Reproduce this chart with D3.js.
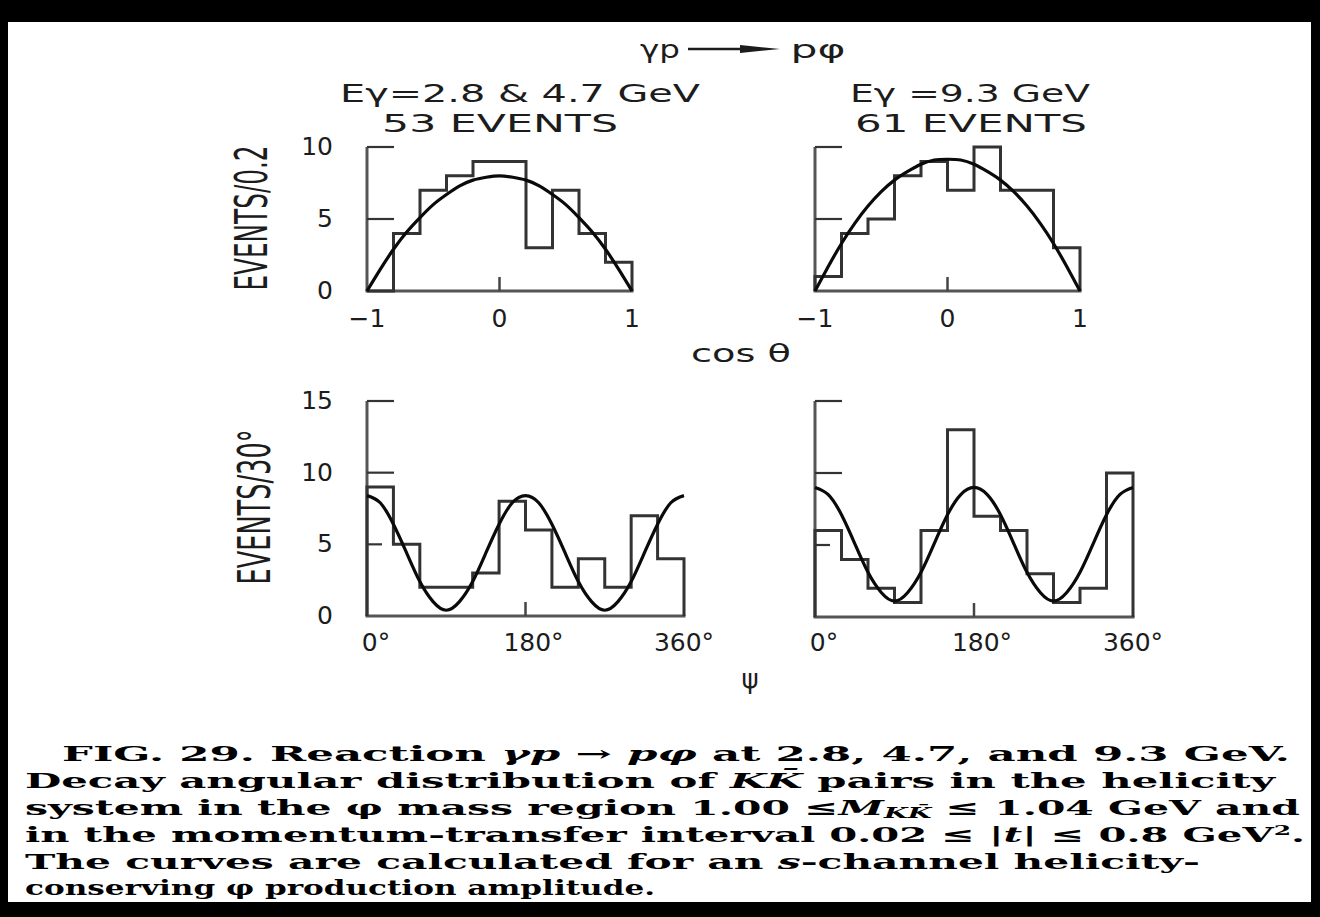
<!DOCTYPE html>
<html>
<head>
<meta charset="utf-8">
<script src="https://cdn.jsdelivr.net/npm/d3@7"></script>
<style>
  html, body { margin: 0; padding: 0; background: #000; }
  svg { display: block; }
</style>
</head>
<body>
<svg id="fig" width="1320" height="917"></svg>
<script>
// ---- Decay angular distributions, gamma p -> p phi ----

// cos(theta) histograms: bin edges and counts (events / 0.2)
const cosEdges = [-1, -0.8, -0.6, -0.4, -0.2, 0, 0.2, 0.4, 0.6, 0.8, 1];
const cosCountsLow = [0, 4, 7, 8, 9, 9, 3, 7, 4, 2];     // E = 2.8 & 4.7 GeV, 53 events
const cosCountsHigh = [1, 4, 5, 8, 9, 7, 10, 7, 7, 3];   // E = 9.3 GeV, 61 events

// psi histograms: bin edges (degrees) and counts (events / 30 deg)
const psiEdges = [0, 30, 60, 90, 120, 150, 180, 210, 240, 270, 300, 330, 360];
const psiCountsLow = [9, 5, 2, 2, 3, 8, 6, 2, 4, 2, 7, 4];
const psiCountsHigh = [6, 4, 2, 1, 6, 13, 7, 6, 3, 1, 2, 10];

// helicity-conserving model curves
const cosCurveX = [-1, -0.9, -0.8, -0.7, -0.6, -0.5, -0.4, -0.3, -0.2, -0.1, 0,
                   0.1, 0.2, 0.3, 0.4, 0.5, 0.6, 0.7, 0.8, 0.9, 1];
const cosCurveLow = [0, 1.5, 2.9, 4.1, 5.1, 6.0, 6.7, 7.3, 7.7, 7.9, 8.0,
                     7.9, 7.7, 7.3, 6.7, 6.0, 5.1, 4.1, 2.9, 1.5, 0];
const cosCurveHigh = [0, 1.7, 3.3, 4.7, 5.9, 6.9, 7.7, 8.3, 8.8, 9.1, 9.15,
                      9.1, 8.8, 8.3, 7.7, 6.9, 5.9, 4.7, 3.3, 1.7, 0];
const psiCurveX = [0, 15, 30, 45, 60, 75, 90, 105, 120, 135, 150, 165, 180,
                   195, 210, 225, 240, 255, 270, 285, 300, 315, 330, 345, 360];
const psiCurveLow = [8.4, 7.9, 6.4, 4.4, 2.4, 1.0, 0.4, 1.0, 2.4, 4.4, 6.4, 7.9, 8.4,
                     7.9, 6.4, 4.4, 2.4, 1.0, 0.4, 1.0, 2.4, 4.4, 6.4, 7.9, 8.4];
const psiCurveHigh = [9.0, 8.5, 7.1, 5.1, 3.1, 1.7, 1.1, 1.7, 3.1, 5.1, 7.1, 8.5, 9.0,
                      8.5, 7.1, 5.1, 3.1, 1.7, 1.1, 1.7, 3.1, 5.1, 7.1, 8.5, 9.0];

// tick values and labels
const cosTicks = [-1, 0, 1];
const cosTickLabels = ["\u22121", "0", "1"];
const psiTicks = [0, 180, 360];
const psiTickLabels = ["0\u00B0", "180\u00B0", "360\u00B0"];
const cosYTicks = [0, 5, 10];
const psiYTicks = [0, 5, 10, 15];

// caption text
const captionLines = [
  [["FIG. 29.  Reaction ", ""], ["\u03B3p", "i"], [" \u2192 ", ""], ["p\u03C6", "i"], [" at 2.8, 4.7, and 9.3 GeV.", ""]],
  [["Decay angular distribution of ", ""], ["KK\u0304", "i"], [" pairs in the helicity", ""]],
  [["system in the \u03C6 mass region 1.00 \u2264", ""], ["M", "i"], ["KK\u0304", "sub"], [" \u2264 1.04 GeV and", ""]],
  [["in the momentum-transfer interval 0.02 \u2264 |", ""], ["t", "i"], ["| \u2264 0.8 GeV", ""], ["2", "sup"], [".", ""]],
  [["The curves are calculated for an ", ""], ["s", "i"], ["-channel helicity-", ""]],
  [["conserving \u03C6 production amplitude.", ""]]
];

const W = 1320, H = 917;
const svg = d3.select("#fig");
const LETTER = "'DejaVu Sans', 'Liberation Sans', sans-serif";
const INK = "#1c1c1c";

// frame
svg.append("rect").attr("x", 0).attr("y", 0).attr("width", W).attr("height", H).attr("fill", "#000");
svg.append("rect").attr("x", 8).attr("y", 22).attr("width", 1303).attr("height", 880).attr("fill", "#fff");

function label(g, txt, x, y, size, opts = {}) {
  const t = g.append("text")
    .attr("x", x).attr("y", y)
    .attr("font-family", LETTER)
    .attr("font-size", size)
    .attr("fill", INK)
    .attr("text-anchor", opts.anchor || "middle")
    .text(txt);
  if (opts.len) t.attr("textLength", opts.len).attr("lengthAdjust", opts.adjust || "spacingAndGlyphs");
  if (opts.transform) t.attr("transform", opts.transform);
  return t;
}

// panel definitions
const panels = [
  { xr: [367, 632], yr: [291, 147], xd: [-1, 1], yd: [0, 10], edges: cosEdges, counts: cosCountsLow,
    cx: cosCurveX, cy: cosCurveLow, ticks: cosTicks, tickLabels: cosTickLabels, yTicks: cosYTicks,
    yLabels: true, shortTick: [], xLabelY: 327, xLabelDx: [0, 0, 0] },
  { xr: [815, 1080], yr: [291, 147], xd: [-1, 1], yd: [0, 10], edges: cosEdges, counts: cosCountsHigh,
    cx: cosCurveX, cy: cosCurveHigh, ticks: cosTicks, tickLabels: cosTickLabels, yTicks: cosYTicks,
    yLabels: false, shortTick: [], xLabelY: 327, xLabelDx: [0, 0, 0] },
  { xr: [367, 684], yr: [616, 401], xd: [0, 360], yd: [0, 15], edges: psiEdges, counts: psiCountsLow,
    cx: psiCurveX, cy: psiCurveLow, ticks: psiTicks, tickLabels: psiTickLabels, yTicks: psiYTicks,
    yLabels: true, shortTick: [5], xLabelY: 651, xLabelDx: [9, 8, 0] },
  { xr: [815, 1133], yr: [617, 401], xd: [0, 360], yd: [0, 15], edges: psiEdges, counts: psiCountsHigh,
    cx: psiCurveX, cy: psiCurveHigh, ticks: psiTicks, tickLabels: psiTickLabels, yTicks: psiYTicks,
    yLabels: false, shortTick: [5], xLabelY: 651, xLabelDx: [9, 8, 0] }
];

panels.forEach(p => {
  const x = d3.scaleLinear().domain(p.xd).range(p.xr);
  const y = d3.scaleLinear().domain(p.yd).range(p.yr);
  const g = svg.append("g");

  // axes: y axis up to top tick, baseline across the full range
  const axisStyle = s => s.attr("stroke", "#555").attr("stroke-width", 3).attr("fill", "none");
  g.append("line").attr("x1", x(p.xd[0])).attr("x2", x(p.xd[0]))
    .attr("y1", y(0)).attr("y2", y(p.yd[1])).call(axisStyle);
  g.append("line").attr("x1", x(p.xd[0]) - 1.5).attr("x2", x(p.xd[1]) + 1.5)
    .attr("y1", y(0)).attr("y2", y(0)).call(axisStyle);

  // inward y ticks
  p.yTicks.filter(v => v > 0).forEach(v => {
    const len = p.shortTick.includes(v) ? 15 : 27;
    g.append("line").attr("x1", x(p.xd[0])).attr("x2", x(p.xd[0]) + len)
      .attr("y1", y(v)).attr("y2", y(v)).attr("stroke", "#333").attr("stroke-width", 2.2);
  });
  // centre x tick
  const mid = p.ticks[1];
  g.append("line").attr("x1", x(mid)).attr("x2", x(mid))
    .attr("y1", y(0)).attr("y2", y(0) - 14).attr("stroke", "#444").attr("stroke-width", 2.5);

  // histogram outline
  const steps = [[p.edges[0], 0]];
  p.counts.forEach((c, i) => { steps.push([p.edges[i], c]); steps.push([p.edges[i + 1], c]); });
  steps.push([p.edges[p.edges.length - 1], 0]);
  const stepLine = d3.line().x(d => x(d[0])).y(d => y(d[1]));
  g.append("path").attr("d", stepLine(steps))
    .attr("fill", "none").attr("stroke", "#333").attr("stroke-width", 3)
    .attr("stroke-linejoin", "miter");

  // model curve
  const curve = d3.line().x(d => x(d[0])).y(d => y(d[1])).curve(d3.curveNatural);
  g.append("path").attr("d", curve(p.cx.map((v, i) => [v, p.cy[i]])))
    .attr("fill", "none").attr("stroke", "#0a0a0a").attr("stroke-width", 3.2);

  // x tick labels
  p.ticks.forEach((t, i) => {
    label(g, p.tickLabels[i], x(t) + p.xLabelDx[i], p.xLabelY, 25);
  });
  // y tick labels (left column only)
  if (p.yLabels) {
    p.yTicks.forEach(v => {
      label(g, String(v), 333, y(v) + 8, 25, { anchor: "end" });
    });
  }
});

// axis titles
label(svg, "EVENTS/0.2", 0, 0, 44, { len: 145, transform: "translate(267,218) rotate(-90)" });
label(svg, "EVENTS/30\u00B0", 0, 0, 44, { len: 155, transform: "translate(270,507) rotate(-90)" });
label(svg, "cos \u03B8", 741, 362, 25, { len: 100 });
label(svg, "\u03C8", 750, 688, 26);

// panel headers
label(svg, "E\u03B3=2.8 & 4.7 GeV", 520, 102, 25, { len: 360 });
label(svg, "53 EVENTS", 500, 132, 25, { len: 236 });
label(svg, "E\u03B3 =9.3 GeV", 970, 102, 25, { len: 240 });
label(svg, "61 EVENTS", 971, 132, 25, { len: 232 });

// reaction title with arrow
label(svg, "\u03B3p", 660, 58, 25, { len: 40 });
label(svg, "p\u03C6", 818, 58, 25, { len: 55 });
svg.append("line").attr("x1", 688).attr("x2", 760).attr("y1", 49).attr("y2", 49)
  .attr("stroke", INK).attr("stroke-width", 2.5);
svg.append("path").attr("d", "M740,45 L780,49 L740,53 Z").attr("fill", INK);

// caption
const capX = [62, 25, 25, 25, 25, 25];
const capLen = [1228, 1250, 1275, 1280, 1175, 630];
const capBase = [761, 788, 815, 842, 869, 895];
const cap = svg.append("g")
  .attr("font-family", "'DejaVu Serif', 'Liberation Serif', serif")
  .attr("font-weight", "bold")
  .attr("font-size", 21)
  .attr("fill", "#000");
captionLines.forEach((parts, li) => {
  const t = cap.append("text").attr("x", capX[li]).attr("y", capBase[li])
    .attr("textLength", capLen[li]).attr("lengthAdjust", "spacingAndGlyphs");
  parts.forEach(([s, style]) => {
    const ts = t.append("tspan").text(s);
    if (style === "i") ts.attr("font-style", "italic");
    if (style === "sub") ts.attr("font-style", "italic").attr("font-size", 14).attr("baseline-shift", "-20%");
    if (style === "sup") ts.attr("font-size", 13).attr("baseline-shift", "super");
  });
});
</script>
</body>
</html>
